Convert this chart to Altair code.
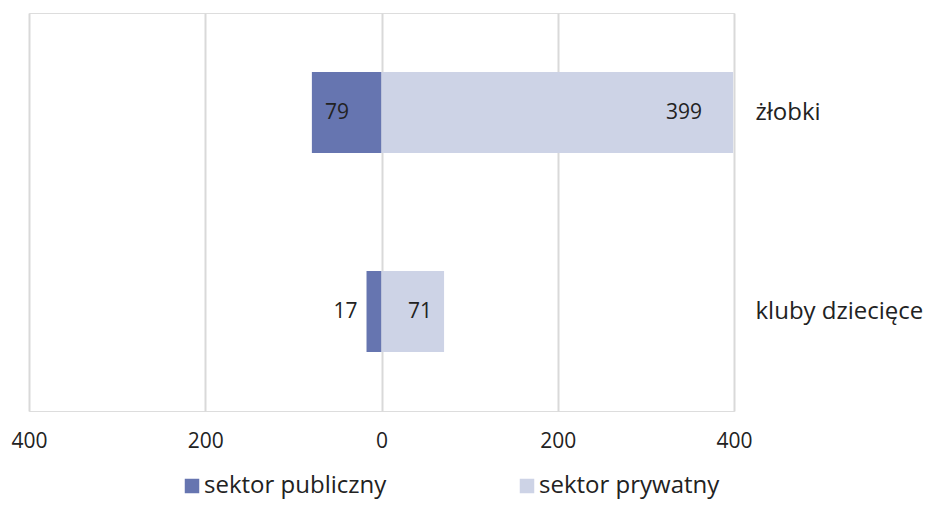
import altair as alt
import pandas as pd

categories = ["żłobki", "kluby dziecięce"]
series = ["sektor publiczny", "sektor prywatny"]
public = [79, 17]
private = [399, 71]
ticks = [-400, -200, 0, 200, 400]
colors = ["#6675b0", "#cdd3e6"]

rows = []
for c, p, q in zip(categories, public, private):
    rows.append({"kat": c, "sektor": series[0], "v": p, "x0": -p, "x1": 0})
    rows.append({"kat": c, "sektor": series[1], "v": q, "x0": 0, "x1": q})
df = pd.DataFrame(rows)

FONT = "Open Sans"
TXT = "#222222"
FS_NUM = 21
FS_TXT = 24

xscale = alt.Scale(domain=[-400, 400], nice=False, zero=False)
xaxis = alt.Axis(values=ticks, labelExpr="abs(datum.value)", title=None,
                 domain=False, ticks=False, grid=True, gridColor="#d9d9d9",
                 gridWidth=2, labelPadding=19, labelFontSize=FS_NUM,
                 labelColor=TXT, labelFont=FONT, labelFlush=False)


def xenc(field):
    return alt.X(f"{field}:Q", scale=xscale, axis=xaxis, title=None)


yenc = alt.Y("kat:N", sort=categories, title=None,
             scale=alt.Scale(paddingInner=0, paddingOuter=0),
             axis=alt.Axis(orient="right", domain=False, ticks=False,
                           labelAlign="left", labelPadding=21,
                           labelFontSize=FS_TXT, labelColor=TXT, labelFont=FONT,
                           labelLimit=300))

bars = alt.Chart(df).mark_bar(size=81).encode(
    x=xenc("x0"),
    x2="x1:Q",
    y=yenc,
    color=alt.Color("sektor:N", scale=alt.Scale(domain=series, range=colors),
                    legend=alt.Legend(title=None, orient="none", direction="horizontal",
                                      legendX=151, legendY=461, padding=0,
                                      symbolType="square",
                                      symbolSize=210, symbolStrokeWidth=0,
                                      labelOffset=0, columnPadding=128,
                                      labelFontSize=FS_TXT, labelColor=TXT,
                                      labelFont=FONT, labelLimit=400)),
)


def label(cat, ser, field, align, dx):
    return alt.Chart(df).transform_filter(
        (alt.datum.kat == cat) & (alt.datum.sektor == ser)
    ).mark_text(align=align, baseline="middle", dx=dx, fontSize=FS_NUM,
                font=FONT, color=TXT).encode(
        x=xenc(field), y=yenc, text="v:Q"
    )


texts = [
    label(categories[0], series[0], "x0", "left", 13),
    label(categories[1], series[0], "x0", "right", -9),
    label(categories[0], series[1], "x1", "right", -31),
    label(categories[1], series[1], "x1", "right", -12),
]

chart = alt.layer(bars, *texts).properties(
    width=705, height=398,
    autosize=alt.AutoSizeParams(type="none"),
    padding={"left": 21, "top": 5, "right": 192, "bottom": 90},
).configure_view(stroke=None).configure(background="white")

chart.save("out.html", embed_options={"renderer": "svg", "actions": False})
